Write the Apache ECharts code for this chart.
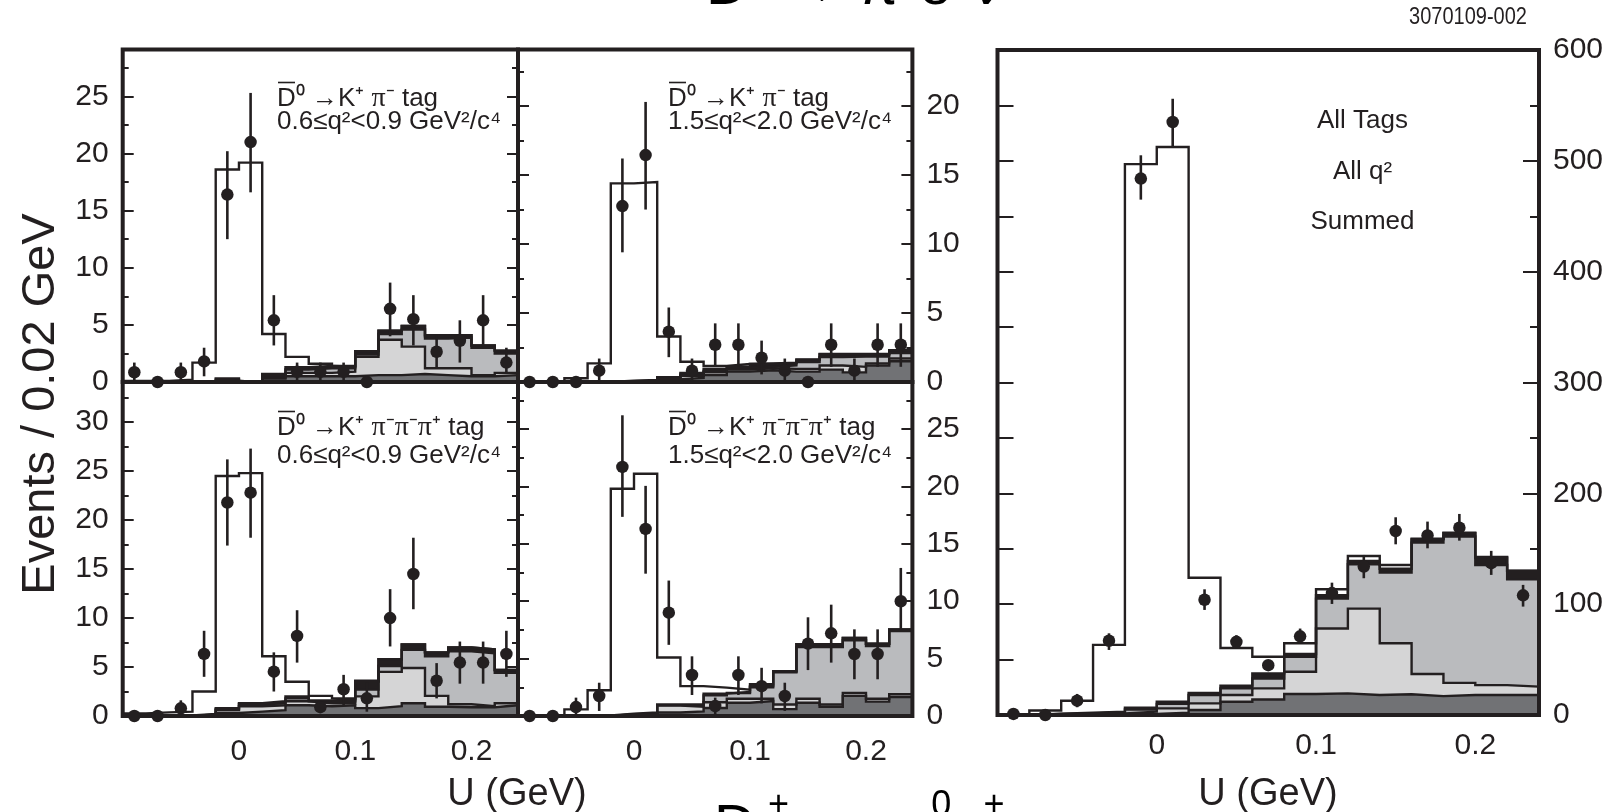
<!DOCTYPE html>
<html>
<head>
<meta charset="utf-8">
<title>U distributions</title>
<script src="https://cdn.jsdelivr.net/npm/echarts@6.0.0/dist/echarts.min.js"></script>
<style>
html, body { margin: 0; padding: 0; background: #ffffff; }
#chart { width: 1608px; height: 812px; }
</style>
</head>
<body>
<div id="chart"></div>
<script>
// U bins (GeV), 0.02 GeV wide
const binCenters = [-0.09, -0.07, -0.05, -0.03, -0.01, 0.01, 0.03, 0.05, 0.07, 0.09, 0.11, 0.13, 0.15, 0.17, 0.19, 0.21, 0.23];
const binWidth = 0.02;
const xTickLabels = ['0', '0.1', '0.2'];

// Stacked histograms are stored as cumulative heights, bottom component first:
// dark background, + light background, + medium background, + black component, + signal (total)

// D0bar -> K+ pi- tag, 0.6 <= q2 < 0.9
const kpiLowCounts  = [0.85, 0, 0.85, 1.8, 16.4, 21.0, 5.4, 0.9, 0.9, 0.9, 0, 6.4, 5.5, 2.65, 3.6, 5.4, 1.7];
const kpiLowErrLow  = [0.17, 0, 0.15, 0.5, 12.5, 16.6, 3.2, 0.15, 0.15, 0.15, 0, 4.0, 3.2, 1.2, 1.7, 3.2, 0.8];
const kpiLowErrHigh = [1.7, 0, 1.7, 3.0, 20.2, 25.3, 7.6, 1.7, 1.7, 1.7, 0, 8.7, 7.6, 4.1, 5.4, 7.6, 3.0];
const kpiLowDark    = [0, 0, 0, 0, 0.1, 0, 0.3, 0.5, 0.5, 0.5, 0.6, 0.6, 0.7, 0.6, 0.5, 0.5, 0.6];
const kpiLowLight   = [0, 0, 0, 0, 0.1, 0, 0.4, 0.8, 0.8, 0.9, 2.2, 3.7, 3.1, 1.2, 1.2, 0.6, 0.8];
const kpiLowMedium  = [0, 0, 0, 0, 0.2, 0, 0.5, 1.1, 1.2, 1.2, 2.4, 4.2, 4.6, 3.8, 3.9, 3.0, 2.5];
const kpiLowBlack   = [0, 0, 0, 0, 0.3, 0, 0.7, 1.3, 1.4, 1.35, 2.7, 4.5, 4.9, 4.0, 4.1, 3.2, 2.75];
const kpiLowTotal   = [0.1, 0.1, 0.2, 1.7, 18.6, 19.2, 4.2, 2.2, 1.6, 1.4, 2.7, 4.5, 4.9, 4.1, 4.1, 3.2, 2.75];

// D0bar -> K+ pi- tag, 1.5 <= q2 < 2.0
const kpiHighCounts  = [0, 0, 0, 0.82, 12.75, 16.45, 3.65, 0.82, 2.7, 2.7, 1.76, 0.82, 0, 2.7, 0.82, 2.7, 2.7];
const kpiHighErrLow  = [0, 0, 0, 0.05, 9.4, 12.5, 1.8, 0.05, 1.1, 1.1, 0.55, 0.05, 0, 1.1, 0.05, 1.1, 1.1];
const kpiHighErrHigh = [0, 0, 0, 1.7, 16.2, 20.3, 5.4, 1.7, 4.25, 4.25, 3.0, 1.7, 0, 4.25, 1.7, 4.25, 4.25];
const kpiHighDark    = [0, 0, 0, 0, 0, 0, 0.2, 0.3, 0.5, 0.75, 0.85, 0.75, 0.75, 0.9, 0.7, 1.2, 1.5];
const kpiHighLight   = [0, 0, 0, 0, 0, 0, 0.25, 0.45, 0.7, 0.9, 1.0, 0.95, 0.95, 1.2, 1.1, 1.35, 1.7];
const kpiHighMedium  = [0, 0, 0, 0, 0.05, 0.1, 0.3, 0.55, 0.8, 1.0, 1.1, 1.2, 1.45, 1.8, 1.85, 1.85, 2.1];
const kpiHighBlack   = [0, 0, 0, 0, 0.1, 0.15, 0.35, 0.65, 0.95, 1.1, 1.3, 1.35, 1.6, 2.0, 2.0, 2.0, 2.3];
const kpiHighTotal   = [0, 0, 0.27, 1.35, 14.4, 14.5, 3.3, 1.47, 1.16, 1.3, 1.35, 1.4, 1.64, 2.03, 2.03, 2.03, 2.3];

// D0bar -> K+ pi- pi- pi+ tag, 0.6 <= q2 < 0.9
const k3piLowCounts  = [0, 0, 0.78, 6.34, 21.8, 22.8, 4.53, 8.18, 0.9, 2.73, 1.8, 10.0, 14.5, 3.6, 5.45, 5.45, 6.34];
const k3piLowErrLow  = [0, 0, 0.27, 4.0, 17.4, 18.2, 2.5, 5.45, 0.3, 1.1, 0.44, 7.1, 10.9, 1.8, 3.3, 3.3, 4.0];
const k3piLowErrHigh = [0, 0, 1.6, 8.7, 26.2, 27.3, 6.5, 10.8, 1.6, 4.2, 3.4, 12.95, 18.2, 5.4, 7.6, 7.6, 8.7];
const k3piLowDark    = [0, 0, 0, 0.05, 0.3, 0.45, 0.6, 1.1, 1.0, 1.1, 0.8, 1.0, 1.3, 0.95, 0.9, 0.9, 1.1];
const k3piLowLight   = [0, 0, 0, 0.1, 0.6, 1.0, 1.1, 1.5, 1.3, 1.3, 2.0, 4.5, 4.9, 2.05, 1.2, 1.0, 1.3];
const k3piLowMedium  = [0, 0, 0, 0.15, 0.7, 1.2, 1.3, 1.8, 1.5, 1.5, 2.7, 5.1, 6.75, 6.1, 6.6, 6.4, 4.4];
const k3piLowBlack   = [0, 0, 0.05, 0.2, 0.8, 1.3, 1.5, 2.0, 1.6, 1.7, 3.5, 5.8, 7.3, 6.5, 7.0, 6.8, 4.7];
const k3piLowTotal   = [0.27, 0.37, 0.44, 2.5, 24.5, 24.8, 6.1, 3.5, 2.05, 1.8, 3.6, 5.8, 7.3, 6.5, 7.0, 6.8, 4.7];

// D0bar -> K+ pi- pi- pi+ tag, 1.5 <= q2 < 2.0
const k3piHighCounts  = [0, 0, 0.78, 1.74, 21.7, 16.3, 9.0, 3.57, 0.87, 3.57, 2.6, 1.74, 6.3, 7.2, 5.4, 5.4, 10.0];
const k3piHighErrLow  = [0, 0, 0.15, 0.44, 17.35, 12.4, 6.2, 1.83, 0.15, 1.83, 1.1, 0.44, 4.0, 4.65, 3.2, 3.2, 7.55];
const k3piHighErrHigh = [0, 0, 1.6, 2.9, 26.2, 20.05, 11.8, 5.2, 1.6, 5.2, 4.2, 2.9, 8.6, 9.7, 7.55, 7.55, 12.9];
const k3piHighDark    = [0, 0, 0, 0, 0.05, 0.1, 0.3, 0.4, 0.7, 1.15, 1.3, 0.6, 1.15, 0.8, 1.75, 1.25, 1.65];
const k3piHighLight   = [0, 0, 0, 0, 0.1, 0.15, 0.9, 0.8, 1.2, 1.5, 1.5, 1.0, 1.5, 1.0, 2.0, 1.5, 1.9];
const k3piHighMedium  = [0, 0, 0, 0, 0.15, 0.2, 0.95, 0.9, 1.8, 2.0, 2.5, 3.8, 6.0, 6.0, 6.6, 6.1, 7.4];
const k3piHighBlack   = [0, 0, 0, 0.05, 0.2, 0.3, 1.0, 1.0, 1.95, 2.1, 2.6, 3.9, 6.25, 6.25, 6.8, 6.3, 7.55];
const k3piHighTotal   = [0, 0.1, 0.58, 2.24, 19.8, 21.1, 5.1, 2.6, 2.47, 2.3, 2.76, 3.9, 6.25, 6.25, 6.8, 6.3, 7.55];

// All tags, all q2, summed
const allCounts  = [1, 0, 12.9, 67, 484, 535, 104, 66, 45, 71, 110, 134, 166, 162, 169, 137, 108];
const allErrLow  = [1, 0, 7, 58.7, 465, 512, 94.8, 60, 41, 64.5, 100.2, 123.4, 154, 150.4, 157.3, 126.4, 97.8];
const allErrHigh = [1, 0, 19, 73.7, 505, 556, 113.4, 72, 49, 78, 119.4, 144.4, 178.4, 174.5, 181.4, 148.1, 117.4];
const allDark    = [0, 0.3, 0.5, 0.8, 1, 2, 4.5, 12, 14, 19, 19.5, 18, 18.7, 17, 18, 18, 18];
const allLight   = [0, 0.6, 1, 1.5, 3, 6, 10.5, 18, 24, 39, 78, 96, 64.7, 37, 29, 27, 25.6];
const allMedium  = [0, 1, 1.5, 2.5, 5, 10, 18, 24, 33, 52.6, 105, 136, 128.5, 155.5, 161, 135.4, 122.4];
const allBlack   = [0, 1.2, 2, 3, 6.5, 12, 20, 26.5, 37.6, 55, 108, 139, 132, 158.5, 164, 142, 130];
const allTotal   = [0, 4, 12.9, 63.3, 497, 512.5, 123.8, 60.5, 52.5, 64.7, 113.4, 143.5, 135.4, 159, 164.5, 142.5, 130.3];

const INK = '#231f20';
const FONT = "'Liberation Sans', Arial, Helvetica, sans-serif";
// fills for the stack, drawn from the top level down
const STACK_FILLS = ['#ffffff', INK, '#babbbe', '#d5d5d6', '#717275'];

const xMin = -0.1, xMax = 0.24;
const edges = binCenters.map(c => +(c - binWidth / 2).toFixed(3))
  .concat([+(binCenters[binCenters.length - 1] + binWidth / 2).toFixed(3)]);

const leftSides = [
  { pos: 'left', step: 5, len: 11, labels: true },
  { pos: 'left', step: 2.5, len: 6 },
  { pos: 'right', step: 5, len: 11 },
  { pos: 'right', step: 2.5, len: 6 }
];
function midSides(step) {
  return [
    { pos: 'right', step: step, len: 11, labels: true },
    { pos: 'right', step: step / 2, len: 6 },
    { pos: 'left', step: step, len: 11 },
    { pos: 'left', step: step / 2, len: 6 }
  ];
}

const panels = [
  { box: [122.7, 49.5, 395.3, 332.5], yMax: 29.1, sides: leftSides, xLabels: false, xTick: [9, 5], xMargin: 21,
    counts: kpiLowCounts, lo: kpiLowErrLow, hi: kpiLowErrHigh,
    stack: [kpiLowTotal, kpiLowBlack, kpiLowMedium, kpiLowLight, kpiLowDark] },
  { box: [518, 49.5, 394.4, 332.5], yMax: 24.1, sides: midSides(5), xLabels: false, xTick: [9, 5], xMargin: 21,
    counts: kpiHighCounts, lo: kpiHighErrLow, hi: kpiHighErrHigh,
    stack: [kpiHighTotal, kpiHighBlack, kpiHighMedium, kpiHighLight, kpiHighDark] },
  { box: [122.7, 382, 395.3, 334], yMax: 34.1, sides: leftSides, xLabels: true, xTick: [10, 5], xMargin: 21,
    counts: k3piLowCounts, lo: k3piLowErrLow, hi: k3piLowErrHigh,
    stack: [k3piLowTotal, k3piLowBlack, k3piLowMedium, k3piLowLight, k3piLowDark] },
  { box: [518, 382, 394.4, 334], yMax: 29.1, sides: midSides(5), xLabels: true, xTick: [10, 5], xMargin: 21,
    counts: k3piHighCounts, lo: k3piHighErrLow, hi: k3piHighErrHigh,
    stack: [k3piHighTotal, k3piHighBlack, k3piHighMedium, k3piHighLight, k3piHighDark] },
  { box: [997.5, 50, 541.5, 665], yMax: 600, showMax: true, xLabels: true, xTick: [18, 8], xMargin: 16,
    sides: [
      { pos: 'right', step: 100, len: 16, labels: true },
      { pos: 'right', step: 50, len: 9 },
      { pos: 'left', step: 50, len: 16 }
    ],
    counts: allCounts, lo: allErrLow, hi: allErrHigh,
    stack: [allTotal, allBlack, allMedium, allLight, allDark] }
];

function xAxisDef(gi, interval, len, labels, margin) {
  return {
    gridIndex: gi, type: 'value', min: xMin, max: xMax, interval: interval, position: 'bottom',
    axisLine: { show: false, onZero: false }, splitLine: { show: false },
    axisTick: { show: true, inside: true, length: len, lineStyle: { color: INK, width: 2 } },
    axisLabel: {
      show: labels, color: INK, fontSize: 30, fontFamily: FONT, margin: margin,
      showMinLabel: false, showMaxLabel: false,
      formatter: v => { const s = String(+(+v).toFixed(2)); return xTickLabels.includes(s) ? s : ''; }
    }
  };
}

function yAxisDef(gi, max, side, showMax) {
  return {
    gridIndex: gi, type: 'value', min: 0, max: max, interval: side.step, position: side.pos,
    axisLine: { show: false, onZero: false }, splitLine: { show: false },
    axisTick: { show: true, inside: true, length: side.len, lineStyle: { color: INK, width: 2 } },
    axisLabel: {
      show: !!side.labels, color: INK, fontSize: 30, fontFamily: FONT, margin: 14,
      showMinLabel: true, showMaxLabel: !!showMax
    }
  };
}

function levelSeries(xi, yi, levels, fill) {
  return {
    type: 'line', xAxisIndex: xi, yAxisIndex: yi, step: 'end', symbol: 'none', silent: true, z: 2,
    data: edges.map((e, i) => [e, levels[Math.min(i, levels.length - 1)]]),
    lineStyle: { color: INK, width: 2.4, join: 'miter' },
    areaStyle: { color: fill, opacity: 1, origin: 'start' }
  };
}

function errorBarSeries(xi, yi, lo, hi) {
  return {
    type: 'custom', xAxisIndex: xi, yAxisIndex: yi, silent: true, z: 5, clip: false,
    data: binCenters.map((c, i) => [c, lo[i], hi[i]]),
    encode: { x: 0, y: [1, 2] },
    renderItem: (params, api) => {
      const a = api.coord([api.value(0), api.value(1)]);
      const b = api.coord([api.value(0), api.value(2)]);
      return { type: 'line', shape: { x1: a[0], y1: a[1], x2: b[0], y2: b[1] },
               style: { stroke: INK, lineWidth: 2.6 } };
    }
  };
}

function pointSeries(xi, yi, counts) {
  return {
    type: 'scatter', xAxisIndex: xi, yAxisIndex: yi, silent: true, z: 6, clip: false,
    symbol: 'circle', symbolSize: 12.5, itemStyle: { color: INK, opacity: 1 },
    data: binCenters.map((c, i) => [c, counts[i]])
  };
}

const option = {
  animation: false,
  backgroundColor: '#ffffff',
  grid: [], xAxis: [], yAxis: [], series: [], graphic: []
};

panels.forEach((p, gi) => {
  option.grid.push({ left: p.box[0], top: p.box[1], width: p.box[2], height: p.box[3],
                     containLabel: false, outerBoundsMode: 'none' });
  const xi = option.xAxis.length;
  option.xAxis.push(xAxisDef(gi, 0.1, p.xTick[0], p.xLabels, p.xMargin));
  option.xAxis.push(xAxisDef(gi, 0.05, p.xTick[1], false, p.xMargin));
  const yi = option.yAxis.length;
  p.sides.forEach(s => option.yAxis.push(yAxisDef(gi, p.yMax, s, p.showMax)));
  p.stack.forEach((lv, k) => option.series.push(levelSeries(xi, yi, lv, STACK_FILLS[k])));
  option.series.push(errorBarSeries(xi, yi, p.lo, p.hi));
  option.series.push(pointSeries(xi, yi, p.counts));
  option.graphic.push({
    type: 'rect', z: 4, silent: true,
    shape: { x: p.box[0], y: p.box[1], width: p.box[2], height: p.box[3] },
    style: { fill: 'none', stroke: INK, lineWidth: 4 }
  });
});

// panel captions
const tagRich = {
  t: { fontFamily: FONT, fontSize: 26, color: INK },
  p: { fontFamily: "'Liberation Serif', 'DejaVu Serif', serif", fontSize: 28, color: INK }
};
function caption(x, y1, y2, line1, line2) {
  option.graphic.push({
    type: 'text', z: 7, silent: true, x: x, y: y1,
    style: { text: line1, rich: tagRich, fill: INK, textVerticalAlign: 'middle', textAlign: 'left' }
  });
  option.graphic.push({
    type: 'text', z: 7, silent: true, x: x, y: y2,
    style: { text: line2, font: '26px ' + FONT, fill: INK, textVerticalAlign: 'middle', textAlign: 'left' }
  });
  // bar over the D
  option.graphic.push({
    type: 'line', z: 7, silent: true,
    shape: { x1: x + 1, y1: y1 - 16.5, x2: x + 18, y2: y1 - 16.5 },
    style: { stroke: INK, lineWidth: 1.6 }
  });
}
const kpiLine = '{t|D\u2070 \u2192K\u207A }{p|\u03C0}{t|\u207B tag}';
const k3piLine = '{t|D\u2070 \u2192K\u207A }{p|\u03C0}{t|\u207B}{p|\u03C0}{t|\u207B}{p|\u03C0}{t|\u207A tag}';
caption(277, 99, 122, kpiLine, '0.6\u2264q\u00B2<0.9 GeV\u00B2/c\u2074');
caption(668, 99, 122, kpiLine, '1.5\u2264q\u00B2<2.0 GeV\u00B2/c\u2074');
caption(277, 428, 456, k3piLine, '0.6\u2264q\u00B2<0.9 GeV\u00B2/c\u2074');
caption(668, 428, 456, k3piLine, '1.5\u2264q\u00B2<2.0 GeV\u00B2/c\u2074');

function plainText(text, x, y, size, opts) {
  const o = Object.assign({ align: 'center', color: INK, rotation: 0, family: FONT, scaleX: 1 }, opts || {});
  option.graphic.push({
    type: 'text', z: 7, silent: true, x: x, y: y, rotation: o.rotation, scaleX: o.scaleX,
    style: { text: text, font: size + 'px ' + o.family, fill: o.color,
             textAlign: o.align, textVerticalAlign: 'middle' }
  });
}
plainText('All Tags', 1362.5, 121, 26);
plainText('All q\u00B2', 1362.5, 172, 26);
plainText('Summed', 1362.5, 222, 26);
plainText('Events / 0.02 GeV', 41, 404, 47, { rotation: Math.PI / 2 });
plainText('U (GeV)', 517, 795, 38);
plainText('U (GeV)', 1268, 795, 38);
plainText('3070109-002', 1468, 18, 23, { scaleX: 0.87 });

// slide headings cut by the page edge
const BLUE = '#0000ff';
const blueRich = {
  m: { fontFamily: FONT, fontSize: 58, lineHeight: 70, verticalAlign: 'bottom', color: BLUE },
  s: { fontFamily: FONT, fontSize: 36, lineHeight: 36, verticalAlign: 'top', color: BLUE },
  sp: { fontFamily: FONT, fontSize: 36, lineHeight: 36, verticalAlign: 'top', color: BLUE, padding: [0, 0, 0, 12] }
};
option.graphic.push({
  type: 'text', z: 7, silent: true, x: 706, y: -53,
  style: { text: '{m|D}{s|0}{m| \u2192 \u03C0}{s|\u2212}{m|e}{s|+}{m|\u03BD}', rich: blueRich, textAlign: 'left', textVerticalAlign: 'top' }
});
option.graphic.push({
  type: 'text', z: 7, silent: true, x: 714, y: 788,
  style: { text: '{m|D}{sp|+}{m| \u2192 \u03C0}{sp|0}{m|e}{s|+}{m|\u03BD}', rich: blueRich, textAlign: 'left', textVerticalAlign: 'top' }
});

const chart = echarts.init(document.getElementById('chart'), null, { renderer: 'canvas' });
chart.setOption(option);
</script>
</body>
</html>
